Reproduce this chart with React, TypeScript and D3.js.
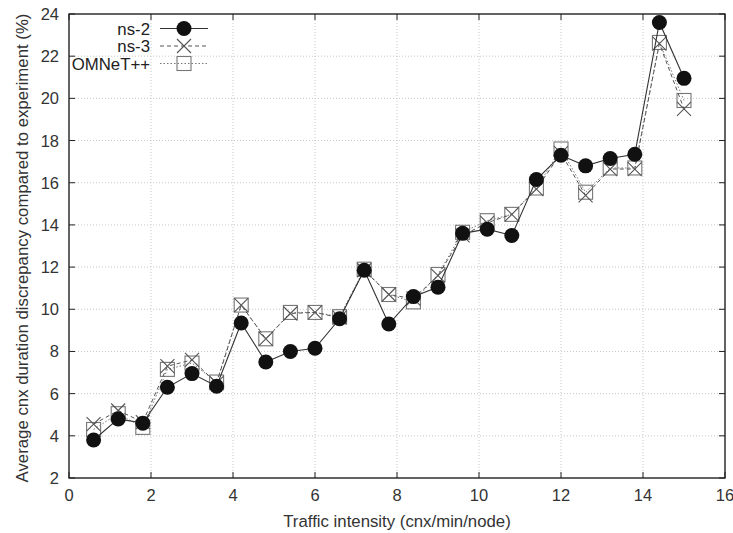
import React from "react";
import * as d3 from "d3";

const xValues = [0.6, 1.2, 1.8, 2.4, 3.0, 3.6, 4.2, 4.8, 5.4, 6.0, 6.6, 7.2, 7.8, 8.4, 9.0, 9.6, 10.2, 10.8, 11.4, 12.0, 12.6, 13.2, 13.8, 14.4, 15.0];
const ns2 = [3.8, 4.8, 4.6, 6.3, 6.95, 6.35, 9.35, 7.5, 8.0, 8.15, 9.55, 11.85, 9.3, 10.6, 11.05, 13.6, 13.8, 13.5, 16.15, 17.3, 16.8, 17.15, 17.35, 23.6, 20.95];
const ns3 = [4.55, 5.2, 4.65, 7.3, 7.6, 6.5, 10.2, 8.6, 9.8, 9.85, 9.6, 11.85, 10.7, 10.5, 11.6, 13.5, 14.1, 14.5, 15.7, 17.4, 15.4, 16.65, 16.65, 22.6, 19.5];
const omnet = [4.3, 5.05, 4.4, 7.15, 7.45, 6.55, 10.2, 8.6, 9.85, 9.85, 9.65, 11.9, 10.7, 10.35, 11.65, 13.65, 14.2, 14.5, 15.75, 17.6, 15.55, 16.7, 16.7, 22.65, 19.9];
const seriesNames = ["ns-2", "ns-3", "OMNeT++"];
const xTicks = [0, 2, 4, 6, 8, 10, 12, 14, 16];
const yTicks = [2, 4, 6, 8, 10, 12, 14, 16, 18, 20, 22, 24];

const W = 733, H = 533;
const L = 69, R = 725, T = 14, B = 478;
const FONT = "'Liberation Sans', Arial, Helvetica, sans-serif";

type Marker = "circle" | "cross" | "square";

function MarkerShape({ kind, cx, cy }: { kind: Marker; cx: number; cy: number }) {
  if (kind === "circle") return <circle cx={cx} cy={cy} r={7.5} fill="#111" />;
  if (kind === "cross") {
    const s = 7;
    return (
      <path d={`M${cx - s},${cy - s}L${cx + s},${cy + s}M${cx - s},${cy + s}L${cx + s},${cy - s}`} stroke="#555" strokeWidth={1.1} fill="none" />
    );
  }
  const s = 7;
  return <rect x={cx - s} y={cy - s} width={2 * s} height={2 * s} fill="none" stroke="#777" strokeWidth={1.1} />;
}

export default function App() {
  const x = d3.scaleLinear().domain([0, 16]).range([L, R]);
  const y = d3.scaleLinear().domain([2, 24]).range([B, T]);
  const series = [
    { name: seriesNames[0], values: ns2, marker: "circle" as Marker, stroke: "#333", dash: "none", width: 1.1 },
    { name: seriesNames[1], values: ns3, marker: "cross" as Marker, stroke: "#555", dash: "4,3", width: 1 },
    { name: seriesNames[2], values: omnet, marker: "square" as Marker, stroke: "#777", dash: "1.5,2", width: 1 },
  ];
  const line = d3.line<[number, number]>().x((d) => x(d[0])).y((d) => y(d[1]));
  const legendY = [28.5, 46, 63.5];
  const drawOrder = [2, 1, 0];

  return (
    <svg width={W} height={H} style={{ position: "absolute", left: 0, top: 0, background: "#fff" }} fontFamily={FONT}>
      <rect x={0} y={0} width={W} height={H} fill="#fff" />
      {xTicks.slice(1, -1).map((t) => (
        <line key={"gx" + t} x1={x(t)} x2={x(t)} y1={T} y2={B} stroke="#c8c8c8" strokeDasharray="1,2" strokeWidth={1} />
      ))}
      {yTicks.slice(1, -1).map((t) => (
        <line key={"gy" + t} x1={L} x2={R} y1={y(t)} y2={y(t)} stroke="#c8c8c8" strokeDasharray="1,2" strokeWidth={1} />
      ))}
      {drawOrder.map((i) => {
        const s = series[i];
        const pts = xValues.map((xv, j) => [xv, s.values[j]] as [number, number]);
        return (
          <g key={s.name}>
            <path d={line(pts) || ""} fill="none" stroke={s.stroke} strokeWidth={s.width} strokeDasharray={s.dash} />
            {pts.map((p, j) => (
              <MarkerShape key={j} kind={s.marker} cx={x(p[0])} cy={y(p[1])} />
            ))}
          </g>
        );
      })}
      <rect x={L} y={T} width={R - L} height={B - T} fill="none" stroke="#222" strokeWidth={1.4} />
      {xTicks.map((t) => (
        <g key={"tx" + t}>
          <line x1={x(t)} x2={x(t)} y1={B} y2={B - 6} stroke="#222" strokeWidth={1} />
          <line x1={x(t)} x2={x(t)} y1={T} y2={T + 6} stroke="#222" strokeWidth={1} />
          <text x={x(t)} y={B + 23} textAnchor="middle" fontSize={16.5} fill="#333">{t}</text>
        </g>
      ))}
      {yTicks.map((t) => (
        <g key={"ty" + t}>
          <line x1={L} x2={L + 6} y1={y(t)} y2={y(t)} stroke="#222" strokeWidth={1} />
          <line x1={R} x2={R - 6} y1={y(t)} y2={y(t)} stroke="#222" strokeWidth={1} />
          <text x={L - 10} y={y(t) + 6} textAnchor="end" fontSize={16.5} fill="#333">{t}</text>
        </g>
      ))}
      <text x={(L + R) / 2} y={527} textAnchor="middle" fontSize={16.8} fill="#333">Traffic intensity (cnx/min/node)</text>
      <text transform={`translate(28,${(T + B) / 2 + 2}) rotate(-90)`} textAnchor="middle" fontSize={16.8} fill="#333">
        Average cnx duration discrepancy compared to experiment (%)
      </text>
      {series.map((s, i) => (
        <g key={"lg" + s.name}>
          <text x={150} y={legendY[i] + 6} textAnchor="end" fontSize={16.8} fill="#222">{s.name}</text>
          <line x1={160} x2={208} y1={legendY[i]} y2={legendY[i]} stroke={s.stroke} strokeWidth={s.width} strokeDasharray={s.dash} />
          <MarkerShape kind={s.marker} cx={184} cy={legendY[i]} />
        </g>
      ))}
    </svg>
  );
}
